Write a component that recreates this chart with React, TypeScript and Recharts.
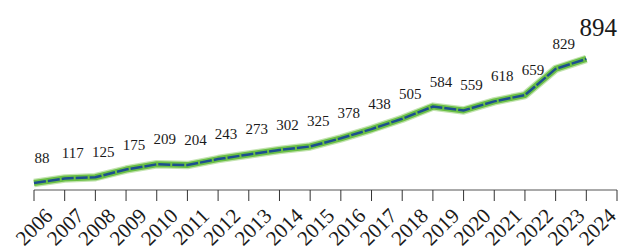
import React from 'react';
import { LineChart, Line, XAxis, YAxis, LabelList } from 'recharts';

const years = [2006, 2007, 2008, 2009, 2010, 2011, 2012, 2013, 2014, 2015, 2016, 2017, 2018, 2019, 2020, 2021, 2022, 2023, 2024];
const counts = [88, 117, 125, 175, 209, 204, 243, 273, 302, 325, 378, 438, 505, 584, 559, 618, 659, 829, 894];
const tickYears = [2006, 2007, 2008, 2009, 2010, 2011, 2012, 2013, 2014, 2015, 2016, 2017, 2018, 2019, 2020, 2021, 2022, 2023, 2024, 2025];

const data = years.map((year, i) => ({ year, count: counts[i] }));

const FONT = '"Liberation Serif", "DejaVu Serif", serif';

// year labels drift a little to the right of their ticks in the original
const YearTick = (props: any) => {
  const { x, y, payload } = props;
  if (payload.value > 2024) return null;
  const i = payload.value - 2006;
  const ax = x + 20 + i * 0.6;
  const ay = y + 14;
  return (
    <g transform={`translate(${ax},${ay})`}>
      <text
        x={0}
        y={0}
        textAnchor="end"
        transform="rotate(-45)"
        style={{ fontFamily: FONT, fontSize: 21, fill: '#1a1a1a' }}
      >
        {payload.value}
      </text>
    </g>
  );
};

const ValueLabel = (props: any) => {
  const { x, y, value, index } = props;
  if (value == null) return null;
  const last = index === counts.length - 1;
  return (
    <text
      x={x + (last ? 12 : 8)}
      y={y - (last ? 23 : 20)}
      textAnchor="middle"
      style={{ fontFamily: FONT, fontSize: last ? 25 : 15, fill: '#1a1a1a' }}
    >
      {value}
    </text>
  );
};

export default function App() {
  return (
    <div style={{ position: 'absolute', left: 0, top: 0, width: 624, height: 251, background: '#fff' }}>
      <LineChart width={624} height={251} data={data} margin={{ top: 10, right: 7, left: 34, bottom: 0 }}>
        <XAxis
          dataKey="year"
          type="number"
          domain={[2006, 2025]}
          ticks={tickYears}
          interval={0}
          height={61}
          tickSize={11}
          tickMargin={2}
          stroke="#555"
          tickLine={{ stroke: '#333' }}
          tick={(p: any) => <YearTick {...p} />}
        />
        <YAxis hide domain={[42, 1212]} />
        <Line
          dataKey="count"
          type="linear"
          stroke="#a9d88f"
          strokeWidth={8.5}
          strokeLinejoin="round"
          strokeOpacity={0.7}
          dot={false}
          activeDot={false}
          isAnimationActive={false}
        />
        <Line
          dataKey="count"
          type="linear"
          stroke="#6abf45"
          strokeWidth={6}
          strokeLinejoin="round"
          dot={false}
          activeDot={false}
          isAnimationActive={false}
        />
        <Line
          dataKey="count"
          type="linear"
          stroke="#1c4f8e"
          strokeWidth={2.5}
          strokeDasharray="12 2"
          dot={false}
          activeDot={false}
          isAnimationActive={false}
        >
          <LabelList dataKey="count" content={(p: any) => <ValueLabel {...p} />} />
        </Line>
      </LineChart>
    </div>
  );
}
